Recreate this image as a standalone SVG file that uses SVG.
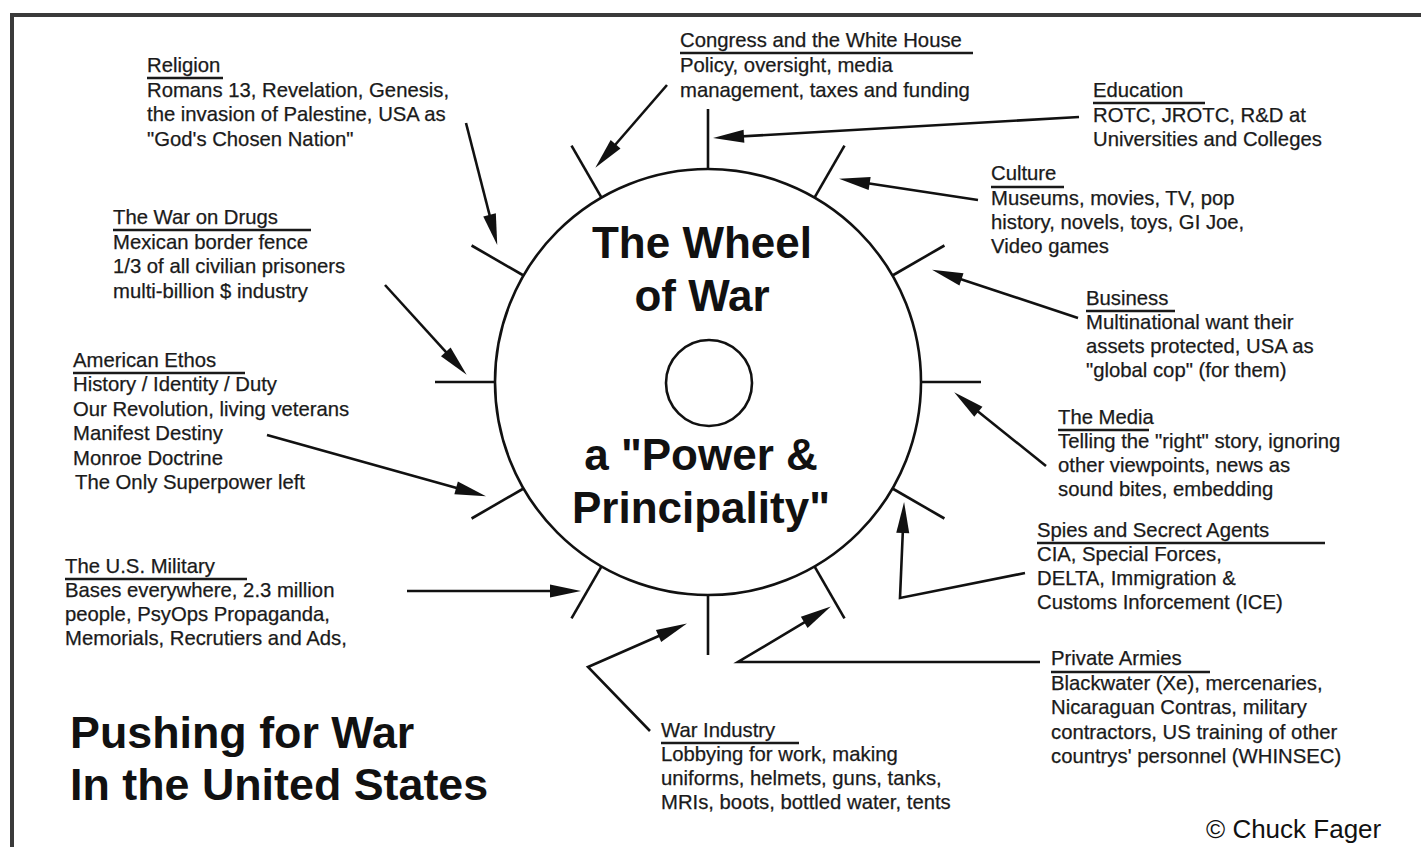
<svg xmlns="http://www.w3.org/2000/svg" width="1421" height="847" viewBox="0 0 1421 847">
  <style>
    .t { font-family: "Liberation Sans", Arial, sans-serif; font-size: 20.3px; fill: #1a1a1a; stroke: #1a1a1a; stroke-width: 0.25; }
    .ttl { font-family: "Liberation Sans", Arial, sans-serif; font-weight: bold; font-size: 44px; fill: #111; }
    .cap { font-family: "Liberation Sans", Arial, sans-serif; font-weight: bold; font-size: 44.8px; fill: #111; }
    .ul { stroke: #1a1a1a; stroke-width: 2.6; }
    .ln { fill: none; stroke: #111; stroke-width: 2.6; stroke-linejoin: miter; }
    .arr { fill: none; stroke: #111; stroke-width: 2.6; marker-end: url(#ah); }
    .spoke { stroke: #111; stroke-width: 2.6; }
  </style>
  <defs>
    <marker id="ah" markerUnits="userSpaceOnUse" markerWidth="34" markerHeight="14" refX="22" refY="6.5" orient="auto" overflow="visible">
      <path d="M0,0 L31,6.5 L0,13 Z" fill="#111"/>
    </marker>
  </defs>

  <rect width="1421" height="847" fill="#fff"/>

  <!-- frame: top and left edges -->
  <path d="M12,847 L12,15 L1421,15" fill="none" stroke="#3a3a3a" stroke-width="4"/>

  <!-- the wheel -->
  <g id="wheel">
    <circle cx="708" cy="382" r="213" class="ln"/>
    <circle cx="709" cy="383" r="43" class="ln"/>
    <g id="spokes">
      <line x1="708" y1="169" x2="708" y2="109" class="spoke"/>
      <line x1="708" y1="169" x2="708" y2="109" class="spoke" transform="rotate(30 708 382)"/>
      <line x1="708" y1="169" x2="708" y2="109" class="spoke" transform="rotate(60 708 382)"/>
      <line x1="708" y1="169" x2="708" y2="109" class="spoke" transform="rotate(90 708 382)"/>
      <line x1="708" y1="169" x2="708" y2="109" class="spoke" transform="rotate(120 708 382)"/>
      <line x1="708" y1="169" x2="708" y2="109" class="spoke" transform="rotate(150 708 382)"/>
      <line x1="708" y1="169" x2="708" y2="109" class="spoke" transform="rotate(180 708 382)"/>
      <line x1="708" y1="169" x2="708" y2="109" class="spoke" transform="rotate(210 708 382)"/>
      <line x1="708" y1="169" x2="708" y2="109" class="spoke" transform="rotate(240 708 382)"/>
      <line x1="708" y1="169" x2="708" y2="109" class="spoke" transform="rotate(270 708 382)"/>
      <line x1="708" y1="169" x2="708" y2="109" class="spoke" transform="rotate(300 708 382)"/>
      <line x1="708" y1="169" x2="708" y2="109" class="spoke" transform="rotate(330 708 382)"/>
    </g>
    <text class="ttl" text-anchor="middle" x="702" y="258">The Wheel</text>
    <text class="ttl" text-anchor="middle" x="702" y="311">of War</text>
    <text class="ttl" text-anchor="middle" x="701" y="470">a "Power &amp;</text>
    <text class="ttl" text-anchor="middle" x="701" y="523">Principality"</text>
  </g>

  <!-- connectors -->
  <g id="connectors">
    <path class="arr" d="M466,123 L495,236.2"/>
    <path class="arr" d="M667,85 L601.2,161"/>
    <path class="arr" d="M1079,117 L722,137.5"/>
    <path class="arr" d="M978,200 L847.9,180.2"/>
    <path class="arr" d="M1078,318 L940.6,272.5"/>
    <path class="arr" d="M1046,466 L961.2,398"/>
    <path class="arr" d="M1025,573 L900,598 L903.7,511"/>
    <path class="arr" d="M1040,662 L738,662 L823.1,611.1"/>
    <path class="arr" d="M650,731 L588,667 L678.7,627.2"/>
    <path class="arr" d="M407,591 L572,591"/>
    <path class="arr" d="M267,435 L477.3,493.8"/>
    <path class="arr" d="M385,285 L460.6,368.1"/>
  </g>

  <g id="religion">
    <text class="t" x="147" y="72">Religion</text>
    <line class="ul" x1="147" y1="78" x2="223" y2="78"/>
    <text class="t" x="147" y="97">Romans 13, Revelation, Genesis,</text>
    <text class="t" x="147" y="121">the invasion of Palestine, USA as</text>
    <text class="t" x="147" y="146">"God's Chosen Nation"</text>
  </g>

  <g id="congress">
    <text class="t" x="680" y="47">Congress and the White House</text>
    <line class="ul" x1="680" y1="53" x2="973" y2="53"/>
    <text class="t" x="680" y="72">Policy, oversight, media</text>
    <text class="t" x="680" y="97">management, taxes and funding</text>
  </g>

  <g id="education">
    <text class="t" x="1093" y="97">Education</text>
    <line class="ul" x1="1093" y1="103" x2="1205" y2="103"/>
    <text class="t" x="1093" y="122">ROTC, JROTC, R&amp;D at</text>
    <text class="t" x="1093" y="146">Universities and Colleges</text>
  </g>

  <g id="culture">
    <text class="t" x="991" y="180">Culture</text>
    <line class="ul" x1="991" y1="187" x2="1064" y2="187"/>
    <text class="t" x="991" y="205">Museums, movies, TV, pop</text>
    <text class="t" x="991" y="229">history, novels, toys, GI Joe,</text>
    <text class="t" x="991" y="253">Video games</text>
  </g>

  <g id="business">
    <text class="t" x="1086" y="305">Business</text>
    <line class="ul" x1="1086" y1="311" x2="1175" y2="311"/>
    <text class="t" x="1086" y="329">Multinational want their</text>
    <text class="t" x="1086" y="353">assets protected, USA as</text>
    <text class="t" x="1086" y="377">"global cop" (for them)</text>
  </g>

  <g id="media">
    <text class="t" x="1058" y="424">The Media</text>
    <line class="ul" x1="1058" y1="430" x2="1149" y2="430"/>
    <text class="t" x="1058" y="448">Telling the "right" story, ignoring</text>
    <text class="t" x="1058" y="472">other viewpoints, news as</text>
    <text class="t" x="1058" y="496">sound bites, embedding</text>
  </g>

  <g id="spies">
    <text class="t" x="1037" y="537">Spies and Secrect Agents</text>
    <line class="ul" x1="1037" y1="543" x2="1325" y2="543"/>
    <text class="t" x="1037" y="561">CIA, Special Forces,</text>
    <text class="t" x="1037" y="585">DELTA, Immigration &amp;</text>
    <text class="t" x="1037" y="609">Customs Inforcement (ICE)</text>
  </g>

  <g id="private-armies">
    <text class="t" x="1051" y="665">Private Armies</text>
    <line class="ul" x1="1051" y1="672" x2="1210" y2="672"/>
    <text class="t" x="1051" y="690">Blackwater (Xe), mercenaries,</text>
    <text class="t" x="1051" y="714">Nicaraguan Contras, military</text>
    <text class="t" x="1051" y="739">contractors, US training of other</text>
    <text class="t" x="1051" y="763">countrys' personnel (WHINSEC)</text>
  </g>

  <g id="war-industry">
    <text class="t" x="661" y="737">War Industry</text>
    <line class="ul" x1="661" y1="743" x2="799" y2="743"/>
    <text class="t" x="661" y="761">Lobbying for work, making</text>
    <text class="t" x="661" y="785">uniforms, helmets, guns, tanks,</text>
    <text class="t" x="661" y="809">MRIs, boots, bottled water, tents</text>
  </g>

  <g id="military">
    <text class="t" x="65" y="573">The U.S. Military</text>
    <line class="ul" x1="65" y1="579" x2="247" y2="579"/>
    <text class="t" x="65" y="597">Bases everywhere, 2.3 million</text>
    <text class="t" x="65" y="621">people, PsyOps Propaganda,</text>
    <text class="t" x="65" y="645">Memorials, Recrutiers and Ads,</text>
  </g>

  <g id="ethos">
    <text class="t" x="73" y="367">American Ethos</text>
    <line class="ul" x1="73" y1="373" x2="245" y2="373"/>
    <text class="t" x="73" y="391">History / Identity / Duty</text>
    <text class="t" x="73" y="416">Our Revolution, living veterans</text>
    <text class="t" x="73" y="440">Manifest Destiny</text>
    <text class="t" x="73" y="465">Monroe Doctrine</text>
    <text class="t" x="75" y="489">The Only Superpower left</text>
  </g>

  <g id="drugs">
    <text class="t" x="113" y="224">The War on Drugs</text>
    <line class="ul" x1="113" y1="230" x2="311" y2="230"/>
    <text class="t" x="113" y="249">Mexican border fence</text>
    <text class="t" x="113" y="273">1/3 of all civilian prisoners</text>
    <text class="t" x="113" y="298">multi-billion $ industry</text>
  </g>

  <g id="caption">
    <text class="cap" x="70" y="748">Pushing for War</text>
    <text class="cap" x="70" y="800">In the United States</text>
  </g>

  <text x="1206" y="838" font-family="'Liberation Sans', Arial, sans-serif" font-size="26" fill="#111">© Chuck Fager</text>
</svg>
